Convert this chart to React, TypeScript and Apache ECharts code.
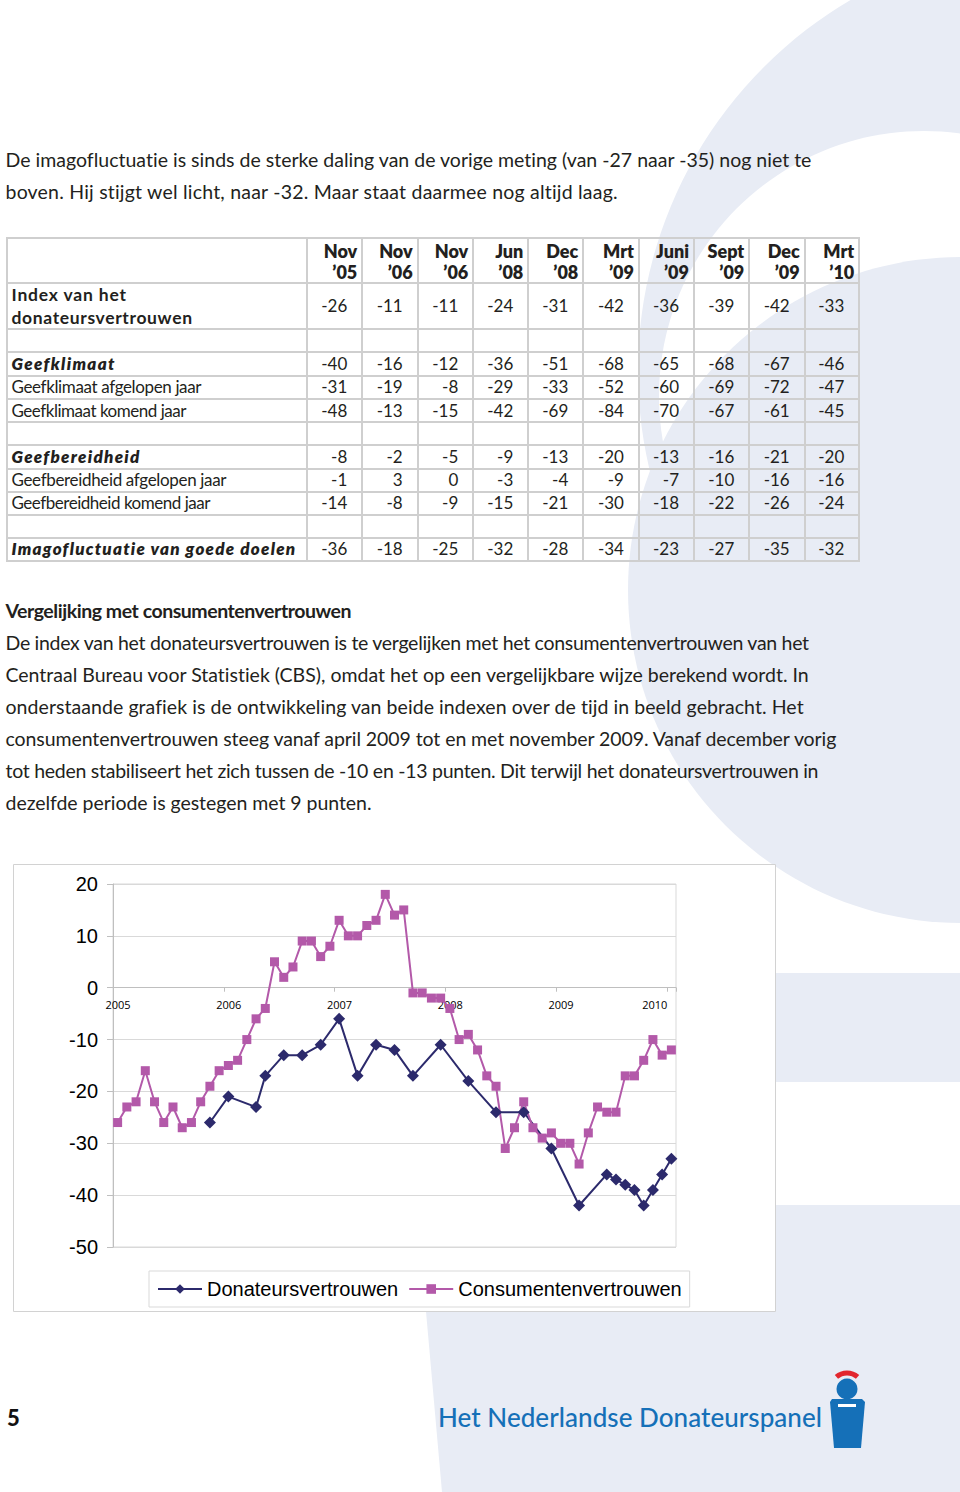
import React, { useEffect, useRef } from "react";
import * as echarts from "echarts";

// ---------------- Chart data ----------------
const seriesNames = ["Donateursvertrouwen", "Consumentenvertrouwen"];
const firstYear = 2005;
// Consumentenvertrouwen (CBS), monthly Jan 2005 .. Jan 2010
const consumerValues = [
  -26, -23, -22, -16, -22, -26, -23, -27, -26, -22, -19, -16,
  -15, -14, -10, -6, -4, 5, 2, 4, 9, 9, 6, 8,
  13, 10, 10, 12, 13, 18, 14, 15, -1, -1, -2, -2,
  -4, -10, -9, -12, -17, -19, -31, -27, -22, -27, -29, -28,
  -30, -30, -34, -28, -23, -24, -24, -17, -17, -14, -10, -13,
  -12,
];
// Donateursvertrouwen: month index (0 = Jan 2005) and value
const donorMonths = [10, 12, 15, 16, 18, 20, 22, 24, 26, 28, 30, 32, 35, 38, 41, 44, 47, 50, 53, 54, 55, 56, 57, 58, 59, 60];
const donorValues = [-26, -21, -23, -17, -13, -13, -11, -6, -17, -11, -12, -17, -11, -18, -24, -24, -31, -42, -36, -37, -38, -39, -42, -39, -36, -33];
const yMin = -50;
const yMax = 20;

// ---------------- Table data ----------------
const periodMonths = ["Nov", "Nov", "Nov", "Jun", "Dec", "Mrt", "Juni", "Sept", "Dec", "Mrt"];
const periodYears = ["\u201905", "\u201906", "\u201906", "\u201908", "\u201908", "\u201909", "\u201909", "\u201909", "\u201909", "\u201910"];
const indexValues = [-26, -11, -11, -24, -31, -42, -36, -39, -42, -33];
const geefklimaat = [-40, -16, -12, -36, -51, -68, -65, -68, -67, -46];
const geefklimaatAfgelopen = [-31, -19, -8, -29, -33, -52, -60, -69, -72, -47];
const geefklimaatKomend = [-48, -13, -15, -42, -69, -84, -70, -67, -61, -45];
const geefbereidheid = [-8, -2, -5, -9, -13, -20, -13, -16, -21, -20];
const geefbereidheidAfgelopen = [-1, 3, 0, -3, -4, -9, -7, -10, -16, -16];
const geefbereidheidKomend = [-14, -8, -9, -15, -21, -30, -18, -22, -26, -24];
const imagofluctuatie = [-36, -18, -25, -32, -28, -34, -23, -27, -35, -32];

// ---------------- Texts ----------------
const introLines = [
  "De imagofluctuatie is sinds de sterke daling van de vorige meting (van -27 naar -35) nog niet te",
  "boven. Hij stijgt wel licht, naar -32. Maar staat daarmee nog altijd laag.",
];
const heading = "Vergelijking met consumentenvertrouwen";
const paraLines = [
  "De index van het donateursvertrouwen is te vergelijken met het consumentenvertrouwen van het",
  "Centraal Bureau voor Statistiek (CBS), omdat het op een vergelijkbare wijze berekend wordt. In",
  "onderstaande grafiek is de ontwikkeling van beide indexen over de tijd in beeld gebracht. Het",
  "consumentenvertrouwen steeg vanaf april 2009 tot en met november 2009. Vanaf december vorig",
  "tot heden stabiliseert het zich tussen de -10 en -13 punten. Dit terwijl het donateursvertrouwen in",
  "dezelfde periode is gestegen met 9 punten.",
];

// ---------------- Styling constants ----------------
const BG = "#e8ecf5";
const NAVY = "#2c2a6c";
const PURPLE = "#b359a9";
const LOGO_BLUE = "#1570b8";
const INK = "#231f20";
const FONT = "Lato";

let measureCtx: CanvasRenderingContext2D | null = null;
function measure(text: string, font: string): number {
  if (!measureCtx) measureCtx = document.createElement("canvas").getContext("2d");
  if (!measureCtx) return text.length * 8;
  measureCtx.font = font;
  return measureCtx.measureText(text).width;
}

type FitProps = {
  text: string; x: number; cy: number; width: number; size: number;
  weight?: number; italic?: boolean; color?: string; lh?: number;
};
function FitLine({ text, x, cy, width, size, weight = 400, italic = false, color = INK, lh = 28 }: FitProps) {
  const font = `${italic ? "italic " : ""}${weight} ${size}px ${FONT}`;
  const w = measure(text, font);
  const ls = (width - w) / Math.max(1, text.length - 1);
  return (
    <div
      style={{
        position: "absolute", left: x, top: cy - lh / 2, height: lh, lineHeight: `${lh}px`,
        fontFamily: FONT, fontSize: size, fontWeight: weight, fontStyle: italic ? "italic" : "normal",
        letterSpacing: `${ls}px`, whiteSpace: "pre", color,
      }}
    >
      {text}
    </div>
  );
}

// table layout
const colEdges = [6.7, 306.7, 362.3, 417.7, 473.3, 528.3, 583.3, 639, 694, 749.3, 804.7, 859.3];
const rowEdges = [238.3, 282.7, 329, 352.3, 375.7, 399, 422, 445.3, 468.7, 491.7, 515, 537.7, 561];

function Table() {
  const lines: React.ReactNode[] = [];
  const x0 = colEdges[0], x1 = colEdges[colEdges.length - 1];
  const y0 = rowEdges[0], y1 = rowEdges[rowEdges.length - 1];
  rowEdges.forEach((y, i) =>
    lines.push(<div key={"h" + i} style={{ position: "absolute", left: x0 - 1, top: y - 1, width: x1 - x0 + 2, height: 2, background: "#cfcfcf" }} />)
  );
  colEdges.forEach((x, i) =>
    lines.push(<div key={"v" + i} style={{ position: "absolute", left: x - 1, top: y0 - 1, width: 2, height: y1 - y0 + 2, background: "#cfcfcf" }} />)
  );

  const rows = [
    { label: "Geefklimaat", values: geefklimaat, row: 3, weight: 800, italic: true, w: 103 },
    { label: "Geefklimaat afgelopen jaar", values: geefklimaatAfgelopen, row: 4, weight: 400, italic: false, w: 190 },
    { label: "Geefklimaat komend jaar", values: geefklimaatKomend, row: 5, weight: 400, italic: false, w: 175 },
    { label: "Geefbereidheid", values: geefbereidheid, row: 7, weight: 800, italic: true, w: 128 },
    { label: "Geefbereidheid afgelopen jaar", values: geefbereidheidAfgelopen, row: 8, weight: 400, italic: false, w: 215 },
    { label: "Geefbereidheid komend jaar", values: geefbereidheidKomend, row: 9, weight: 400, italic: false, w: 199 },
    { label: "Imagofluctuatie van goede doelen", values: imagofluctuatie, row: 11, weight: 800, italic: true, w: 284 },
  ];

  const numCell = (v: number, col: number, cy: number, key: string) => {
    const left = colEdges[col + 1];
    const width = colEdges[col + 2] - left - 15;
    return (
      <div key={key} style={{ position: "absolute", left, top: cy - 12, width, height: 24, lineHeight: "24px", textAlign: "right", fontFamily: FONT, fontSize: 17, color: INK, whiteSpace: "pre" }}>
        {String(v)}
      </div>
    );
  };

  const cells: React.ReactNode[] = [];
  periodMonths.forEach((m, j) => {
    const left = colEdges[j + 1];
    const width = colEdges[j + 2] - left - 5;
    [m, periodYears[j]].forEach((t, k) =>
      cells.push(
        <div key={`hd${j}-${k}`} style={{ position: "absolute", left, top: (k === 0 ? 250.5 : 271.5) - 11, width, height: 22, lineHeight: "22px", textAlign: "right", fontFamily: FONT, fontSize: 18, fontWeight: 800, color: INK, whiteSpace: "pre" }}>
          {t}
        </div>
      )
    );
  });
  cells.push(<FitLine key="il1" text="Index van het" x={11.5} cy={295} width={115} size={17.5} weight={700} lh={24} />);
  cells.push(<FitLine key="il2" text="donateursvertrouwen" x={11.5} cy={318} width={180.5} size={17.5} weight={700} lh={24} />);
  indexValues.forEach((v, j) => cells.push(numCell(v, j, 306, `iv${j}`)));
  rows.forEach((r, ri) => {
    const cy = (rowEdges[r.row] + rowEdges[r.row + 1]) / 2;
    cells.push(<FitLine key={`rl${ri}`} text={r.label} x={11.5} cy={cy} width={r.w} size={17} weight={r.weight} italic={r.italic} lh={24} />);
    r.values.forEach((v, j) => cells.push(numCell(v, j, cy, `rv${ri}-${j}`)));
  });
  return <>{lines}{cells}</>;
}

const GRID = { left: 113, top: 884, width: 563, height: 363 };

function buildOption() {
  const labelRich = {
    n: { fontSize: 11, fontFamily: "Open Sans", color: "#000", padding: [0, 0, 0, 10] },
    e: { fontSize: 11, fontFamily: "Open Sans", color: "#000", padding: [0, 24, 0, 0] },
  };
  // move the category (x) axis from the bottom of the grid up to the value 0
  const zeroOffset = -GRID.height * (0 - yMin) / (yMax - yMin);
  return {
    animation: false,
    graphic: {
      elements: [
        { type: "circle", silent: true, z: -30, shape: { cx: 1068, cy: 371, r: 430 }, style: { fill: BG } },
        { type: "circle", silent: true, z: -29, shape: { cx: 924, cy: 396, r: 265 }, style: { fill: "#ffffff" } },
        { type: "circle", silent: true, z: -28, shape: { cx: 961, cy: 590, r: 333 }, style: { fill: BG } },
        { type: "polygon", silent: true, z: -28, shape: { points: [[396, 973], [960, 973], [960, 1492], [442, 1492]] }, style: { fill: BG } },
        { type: "rect", silent: true, z: -27, shape: { x: 520, y: 1082, width: 440, height: 123 }, style: { fill: "#ffffff" } },
        { type: "rect", silent: true, z: -10, shape: { x: 13.5, y: 864.5, width: 762, height: 447 }, style: { fill: "#ffffff", stroke: "#d2d2d2", lineWidth: 1 } },
        { type: "arc", silent: true, z: 5, shape: { cx: 847, cy: 1389, r: 16, startAngle: Math.PI * 1.27, endAngle: Math.PI * 1.73, clockwise: true }, style: { stroke: "#e2262e", lineWidth: 5, fill: "none" } },
        { type: "circle", silent: true, z: 5, shape: { cx: 847, cy: 1389, r: 10.5 }, style: { fill: LOGO_BLUE } },
        { type: "polygon", silent: true, z: 5, shape: { points: [[830, 1402], [832, 1399], [862, 1399], [865, 1402], [861, 1448], [834, 1448]] }, style: { fill: LOGO_BLUE } },
        { type: "rect", silent: true, z: 6, shape: { x: 838, y: 1404, width: 18, height: 3 }, style: { fill: "#ffffff" } },
      ],
    },
    grid: { ...GRID, show: true, borderColor: "#d9d9d9", borderWidth: 1, backgroundColor: "transparent" },
    legend: {
      data: seriesNames,
      left: 149, top: 1271,
      itemWidth: 44, itemHeight: 12, itemGap: 10,
      padding: [8, 8, 8, 8],
      borderColor: "#d9d9d9", borderWidth: 1,
      textStyle: { fontSize: 20, fontFamily: "Liberation Sans", color: "#000" },
    },
    xAxis: {
      type: "value", min: 0, max: 61, interval: 12,
      position: "bottom",
      offset: zeroOffset,
      axisLine: { show: true, onZero: false, lineStyle: { color: "#bfbfbf", width: 1 } },
      axisTick: { show: true, length: 4, lineStyle: { color: "#bfbfbf" } },
      splitLine: { show: false },
      axisLabel: {
        margin: 11, fontSize: 11, fontFamily: "Open Sans", color: "#000",
        formatter: (v: number) => {
          if (v % 12 !== 0) return "";
          const y = firstYear + v / 12;
          return v === 60 ? `{e|${y}}` : `{n|${y}}`;
        },
        rich: labelRich,
      },
    },
    yAxis: {
      type: "value", min: yMin, max: yMax, interval: 10,
      axisLine: { show: true, onZero: false, lineStyle: { color: "#bfbfbf", width: 1 } },
      axisTick: { show: true, length: 6, lineStyle: { color: "#bfbfbf" } },
      splitLine: { show: true, lineStyle: { color: "#d9d9d9", width: 1 } },
      axisLabel: { margin: 15, fontSize: 20, fontFamily: "Liberation Sans", color: "#000" },
    },
    series: [
      {
        name: seriesNames[0], type: "line",
        data: donorMonths.map((m, i) => [m + 0.5, donorValues[i]]),
        symbol: "diamond", symbolSize: 12,
        lineStyle: { color: NAVY, width: 2 }, itemStyle: { color: NAVY },
      },
      {
        name: seriesNames[1], type: "line",
        data: consumerValues.map((v, i) => [i + 0.5, v]),
        symbol: "rect", symbolSize: 9,
        lineStyle: { color: PURPLE, width: 2 }, itemStyle: { color: PURPLE },
      },
    ],
  };
}

export default function App() {
  const ref = useRef<HTMLDivElement>(null);
  useEffect(() => {
    if (!ref.current) return;
    const chart = echarts.init(ref.current, null, { renderer: "svg" });
    chart.setOption(buildOption() as any);
    return () => chart.dispose();
  }, []);

  const introCy = [160, 192];
  const introW = [808, 614];
  const paraCy = [643, 675, 707, 739, 771, 803];
  const paraW = [805, 806, 799, 834, 813, 366];

  return (
    <div style={{ position: "absolute", left: 0, top: 0, width: 960, height: 1492, overflow: "hidden", background: "#fff" }}>
      <div ref={ref} style={{ position: "absolute", left: 0, top: 0, width: 960, height: 1492 }} />
      <div style={{ position: "absolute", left: 0, top: 0, width: 960, height: 1492, pointerEvents: "none" }}>
        {introLines.map((t, i) => (
          <FitLine key={"in" + i} text={t} x={5.5} cy={introCy[i]} width={introW[i]} size={19.5} lh={30} />
        ))}
        <Table />
        <FitLine text={heading} x={5.5} cy={611} width={346} size={19.5} weight={700} lh={30} />
        {paraLines.map((t, i) => (
          <FitLine key={"p" + i} text={t} x={5.5} cy={paraCy[i]} width={paraW[i]} size={19.5} lh={30} />
        ))}
        <div style={{ position: "absolute", left: 7, top: 1404, height: 28, lineHeight: "28px", fontFamily: FONT, fontSize: 22, fontWeight: 900, color: "#111" }}>5</div>
        <FitLine text="Het Nederlandse Donateurspanel" x={438} cy={1417} width={384} size={26} weight={500} color={LOGO_BLUE} lh={34} />
      </div>
    </div>
  );
}
